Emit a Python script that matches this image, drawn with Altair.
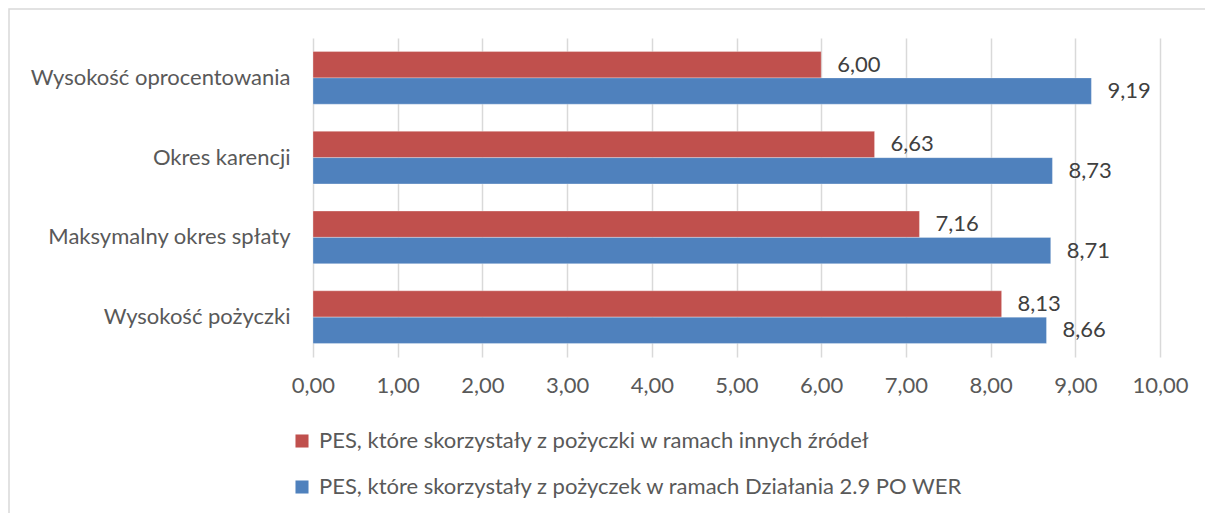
import altair as alt
import pandas as pd

# Survey ratings of loan conditions, two groups of social economy entities
categories = [
    "Wysokość oprocentowania",
    "Okres karencji",
    "Maksymalny okres spłaty",
    "Wysokość pożyczki",
]
series_names = [
    "PES, które skorzystały z pożyczki w ramach innych źródeł",
    "PES, które skorzystały z pożyczek w ramach Działania 2.9 PO WER",
]
other_sources = [6.00, 6.63, 7.16, 8.13]
po_wer = [9.19, 8.73, 8.71, 8.66]
x_ticks = [0, 1, 2, 3, 4, 5, 6, 7, 8, 9, 10]

colors = ["#C0504D", "#4F81BD"]
text_color = "#595959"
grid_color = "#D9D9D9"
font = "Lato"
fs = 22

rows = []
for name, values in zip(series_names, [other_sources, po_wer]):
    for cat, v in zip(categories, values):
        rows.append({"category": cat, "series": name, "value": v})
df = pd.DataFrame(rows)

base = alt.Chart(df).transform_calculate(
    label="replace(format(datum.value, '.2f'), '.', ',')"
)

y_enc = alt.Y(
    "category:N",
    sort=categories,
    title=None,
    scale=alt.Scale(paddingInner=0.34, paddingOuter=0.17),
    axis=alt.Axis(
        domain=False,
        ticks=False,
        labelPadding=23,
        labelFontSize=fs,
        labelColor=text_color,
        labelFont=font,
        labelLimit=400,
    ),
)
y_off = alt.YOffset("series:N", sort=series_names)

bars = base.mark_bar(stroke="white", strokeWidth=0.6, strokeOpacity=0.5).encode(
    x=alt.X(
        "value:Q",
        title=None,
        scale=alt.Scale(domain=[0, 10], nice=False),
        axis=alt.Axis(
            values=x_ticks,
            labelExpr="replace(format(datum.value, '.2f'), '.', ',')",
            domain=False,
            ticks=False,
            grid=True,
            gridColor=grid_color,
            gridWidth=1.5,
            labelFlush=False,
            labelOverlap=False,
            labelPadding=18,
            labelFontSize=fs,
            labelColor=text_color,
            labelFont=font,
        ),
    ),
    y=y_enc,
    yOffset=y_off,
    color=alt.Color(
        "series:N",
        sort=series_names,
        scale=alt.Scale(domain=series_names, range=colors),
        legend=alt.Legend(
            title=None,
            orient="none",
            legendX=-22,
            legendY=392,
            direction="vertical",
            symbolType="square",
            symbolSize=170,
            symbolStrokeWidth=0,
            labelFontSize=fs,
            labelColor=text_color,
            labelFont=font,
            labelOffset=6,
            rowPadding=24,
            labelLimit=900,
        ),
    ),
)

labels = base.mark_text(
    align="left", baseline="middle", dx=16, fontSize=fs, font=font, color="#404040"
).encode(
    x="value:Q",
    y=alt.Y("category:N", sort=categories),
    yOffset=y_off,
    text="label:N",
)

# light frame around the whole figure
frame = alt.Chart(alt.Data(values=[{}])).mark_rect(
    fill=None, stroke=grid_color, strokeWidth=1.5
).encode(
    x=alt.value(-304), x2=alt.value(900), y=alt.value(-29), y2=alt.value(480)
)

chart = alt.layer(frame, bars, labels).properties(
    width=847,
    height=319,
    autosize=alt.AutoSizeParams(type="none"),
    padding={"left": 313, "top": 38, "right": 45, "bottom": 156},
).configure_view(stroke=None)

chart.save("out.html", embed_options={"renderer": "svg", "actions": False})
